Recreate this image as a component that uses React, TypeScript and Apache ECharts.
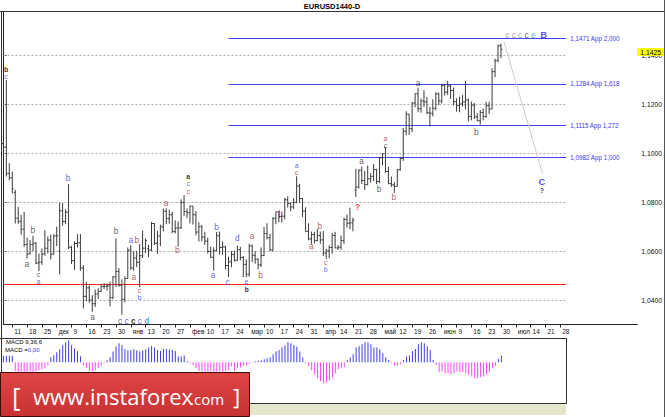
import React, { useEffect, useRef } from "react";
import * as echarts from "echarts";

// Daily EURUSD bars, 8 Nov 2016 .. 30 Jun 2017 (index 0..168)
const opens = [
  1.1040, 1.1025, 1.0918, 1.0900, 1.0840, 1.0735, 1.0722, 1.0690, 1.0627, 1.0590,
  1.0627, 1.0633, 1.0551, 1.0555, 1.0590, 1.0612, 1.0645, 1.0588, 1.0662, 1.0600,
  1.0765, 1.0721, 1.0759, 1.0616, 1.0561, 1.0631, 1.0634, 1.0531, 1.0415, 1.0450,
  1.0400, 1.0385, 1.0425, 1.0435, 1.0455, 1.0456, 1.0458, 1.0410, 1.0495, 1.0517,
  1.0460, 1.0403, 1.0488, 1.0604, 1.0531, 1.0572, 1.0554, 1.0581, 1.0612, 1.0610,
  1.0604, 1.0713, 1.0632, 1.0662, 1.0699, 1.0763, 1.0733, 1.0749, 1.0680, 1.0695,
  1.0695, 1.0799, 1.0762, 1.0757, 1.0784, 1.0749, 1.0678, 1.0700, 1.0657, 1.0641,
  1.0599, 1.0575, 1.0602, 1.0663, 1.0615, 1.0617, 1.0541, 1.0556, 1.0586, 1.0563,
  1.0606, 1.0574, 1.0546, 1.0505, 1.0621, 1.0583, 1.0567, 1.0544, 1.0582, 1.0672,
  1.0655, 1.0605, 1.0734, 1.0761, 1.0741, 1.0743, 1.0810, 1.0795, 1.0781, 1.0800,
  1.0866, 1.0815, 1.0764, 1.0681, 1.0650, 1.0668, 1.0643, 1.0664, 1.0646, 1.0592,
  1.0601, 1.0615, 1.0664, 1.0613, 1.0616, 1.0643, 1.0730, 1.0714, 1.0716, 1.0850,
  1.0862, 1.0931, 1.0889, 1.0872, 1.0896, 1.0906, 1.0934, 1.0885, 1.0982, 1.1023,
  1.0926, 1.0876, 1.0871, 1.0865, 1.0933, 1.0979, 1.1090, 1.1160, 1.1101, 1.1206,
  1.1244, 1.1182, 1.1214, 1.1210, 1.1166, 1.1164, 1.1184, 1.1243, 1.1214, 1.1277,
  1.1250, 1.1276, 1.1257, 1.1211, 1.1196, 1.1202, 1.1210, 1.1218, 1.1151, 1.1197,
  1.1149, 1.1133, 1.1167, 1.1151, 1.1195, 1.1181, 1.1334, 1.1379, 1.1440,
];
const highs = [
  1.1073, 1.1300, 1.0960, 1.0925, 1.0850, 1.0780, 1.0748, 1.0760, 1.0655, 1.0645,
  1.0663, 1.0637, 1.0590, 1.0611, 1.0686, 1.0660, 1.0667, 1.0669, 1.0700, 1.0797,
  1.0797, 1.0771, 1.0874, 1.0622, 1.0640, 1.0669, 1.0670, 1.0543, 1.0475, 1.0460,
  1.0420, 1.0443, 1.0448, 1.0466, 1.0469, 1.0468, 1.0475, 1.0498, 1.0652, 1.0530,
  1.0485, 1.0497, 1.0615, 1.0624, 1.0600, 1.0601, 1.0629, 1.0684, 1.0652, 1.0625,
  1.0719, 1.0714, 1.0683, 1.0708, 1.0774, 1.0775, 1.0770, 1.0760, 1.0726, 1.0722,
  1.0812, 1.0829, 1.0774, 1.0786, 1.0784, 1.0764, 1.0718, 1.0707, 1.0679, 1.0655,
  1.0619, 1.0616, 1.0679, 1.0680, 1.0640, 1.0622, 1.0577, 1.0601, 1.0602, 1.0623,
  1.0618, 1.0580, 1.0566, 1.0630, 1.0627, 1.0600, 1.0570, 1.0615, 1.0699, 1.0714,
  1.0670, 1.0739, 1.0761, 1.0763, 1.0762, 1.0818, 1.0824, 1.0800, 1.0817, 1.0906,
  1.0875, 1.0818, 1.0779, 1.0714, 1.0680, 1.0679, 1.0691, 1.0680, 1.0682, 1.0609,
  1.0623, 1.0674, 1.0679, 1.0625, 1.0664, 1.0737, 1.0749, 1.0778, 1.0737, 1.0937,
  1.0935, 1.0946, 1.0928, 1.0950, 1.0918, 1.0956, 1.0936, 1.0985, 1.0999, 1.1024,
  1.0945, 1.0905, 1.0882, 1.0935, 1.0983, 1.1104, 1.1172, 1.1161, 1.1210, 1.1245,
  1.1268, 1.1224, 1.1258, 1.1230, 1.1190, 1.1221, 1.1250, 1.1248, 1.1284, 1.1285,
  1.1296, 1.1282, 1.1269, 1.1225, 1.1231, 1.1238, 1.1296, 1.1224, 1.1212, 1.1206,
  1.1164, 1.1177, 1.1183, 1.1211, 1.1211, 1.1348, 1.1387, 1.1445, 1.1448,
];
const lows = [
  1.1016, 1.0905, 1.0890, 1.0836, 1.0713, 1.0712, 1.0667, 1.0617, 1.0570, 1.0586,
  1.0600, 1.0547, 1.0518, 1.0544, 1.0581, 1.0591, 1.0566, 1.0585, 1.0621, 1.0505,
  1.0704, 1.0710, 1.0609, 1.0548, 1.0523, 1.0615, 1.0520, 1.0366, 1.0395, 1.0389,
  1.0352, 1.0372, 1.0405, 1.0434, 1.0445, 1.0438, 1.0374, 1.0403, 1.0453, 1.0455,
  1.0340, 1.0390, 1.0486, 1.0523, 1.0520, 1.0535, 1.0453, 1.0572, 1.0593, 1.0576,
  1.0600, 1.0625, 1.0589, 1.0620, 1.0681, 1.0710, 1.0712, 1.0673, 1.0672, 1.0619,
  1.0691, 1.0744, 1.0735, 1.0713, 1.0709, 1.0665, 1.0640, 1.0640, 1.0625, 1.0590,
  1.0573, 1.0520, 1.0600, 1.0587, 1.0585, 1.0525, 1.0494, 1.0534, 1.0557, 1.0560,
  1.0562, 1.0493, 1.0493, 1.0496, 1.0555, 1.0549, 1.0525, 1.0535, 1.0580, 1.0648,
  1.0600, 1.0600, 1.0710, 1.0718, 1.0717, 1.0730, 1.0778, 1.0763, 1.0772, 1.0796,
  1.0798, 1.0740, 1.0680, 1.0644, 1.0630, 1.0631, 1.0640, 1.0630, 1.0580, 1.0569,
  1.0571, 1.0589, 1.0612, 1.0605, 1.0606, 1.0630, 1.0696, 1.0690, 1.0681, 1.0821,
  1.0856, 1.0874, 1.0850, 1.0869, 1.0880, 1.0886, 1.0874, 1.0878, 1.0950, 1.0921,
  1.0874, 1.0863, 1.0838, 1.0865, 1.0929, 1.0969, 1.1074, 1.1075, 1.1086, 1.1189,
  1.1168, 1.1166, 1.1190, 1.1160, 1.1110, 1.1151, 1.1176, 1.1197, 1.1204, 1.1237,
  1.1239, 1.1223, 1.1196, 1.1170, 1.1168, 1.1191, 1.1180, 1.1131, 1.1135, 1.1140,
  1.1132, 1.1118, 1.1135, 1.1145, 1.1161, 1.1181, 1.1312, 1.1372, 1.1390,
];
const closes = [
  1.1025, 1.0918, 1.0900, 1.0855, 1.0735, 1.0722, 1.0690, 1.0627, 1.0587, 1.0627,
  1.0633, 1.0551, 1.0555, 1.0587, 1.0612, 1.0645, 1.0588, 1.0662, 1.0663, 1.0765,
  1.0721, 1.0759, 1.0616, 1.0561, 1.0631, 1.0634, 1.0531, 1.0415, 1.0450, 1.0400,
  1.0385, 1.0425, 1.0435, 1.0455, 1.0456, 1.0458, 1.0410, 1.0495, 1.0517, 1.0460,
  1.0403, 1.0488, 1.0604, 1.0531, 1.0572, 1.0554, 1.0581, 1.0612, 1.0643, 1.0604,
  1.0713, 1.0632, 1.0662, 1.0699, 1.0763, 1.0733, 1.0749, 1.0680, 1.0695, 1.0695,
  1.0799, 1.0762, 1.0757, 1.0784, 1.0749, 1.0678, 1.0700, 1.0657, 1.0641, 1.0599,
  1.0575, 1.0602, 1.0663, 1.0615, 1.0617, 1.0541, 1.0556, 1.0586, 1.0563, 1.0606,
  1.0574, 1.0546, 1.0505, 1.0621, 1.0583, 1.0567, 1.0544, 1.0582, 1.0672, 1.0655,
  1.0605, 1.0734, 1.0761, 1.0741, 1.0743, 1.0810, 1.0795, 1.0781, 1.0800, 1.0866,
  1.0815, 1.0764, 1.0681, 1.0650, 1.0668, 1.0643, 1.0664, 1.0646, 1.0592, 1.0601,
  1.0615, 1.0664, 1.0613, 1.0616, 1.0643, 1.0730, 1.0714, 1.0716, 1.0726, 1.0862,
  1.0931, 1.0889, 1.0872, 1.0896, 1.0906, 1.0934, 1.0885, 1.0982, 1.0998, 1.0926,
  1.0876, 1.0871, 1.0865, 1.0933, 1.0979, 1.1090, 1.1160, 1.1101, 1.1206, 1.1244,
  1.1182, 1.1214, 1.1210, 1.1166, 1.1164, 1.1184, 1.1243, 1.1214, 1.1277, 1.1250,
  1.1276, 1.1257, 1.1211, 1.1196, 1.1202, 1.1210, 1.1218, 1.1151, 1.1197, 1.1149,
  1.1133, 1.1167, 1.1151, 1.1195, 1.1181, 1.1334, 1.1379, 1.1440, 1.1425,
];

// MACD(9,36,6) histogram, in 1e-4 units
const macd = [
  6.5, 6.5, 6.5, 6.5, -9, -10, -10, -9.5, -10, -9,
  -9.5, -9, -8, -7, -6, -3, 5, 7, 10, 13,
  17, 20, 22, 17, 14, 11, 6, -3, -6, -9,
  -9, -8, -6, -4, -1, 2, 5, 10.7, 15.7, 19,
  17, 13, 12, 12, 13, 12, 11, 12, 13, 14.7,
  16.3, 14.7, 12.3, 11.3, 13.3, 13.3, 12.8, 12.3, 11.3, 5.7,
  5.7, 6.7, 1.3, -1, -3, -6, -8.7, -9.3, -9.3, -10,
  -9.3, -10, -9.3, -9.3, -10, -9.3, -7.7, -4.3, -8.7, -6,
  -5.3, -3.3, -2.7, -1.5, -0.5, 1, 1.5, 2, 3, 4,
  5, 8, 11, 12.3, 14.7, 16.7, 20, 19, 17.3, 15.7,
  10.7, 4.7, -1, -4, -8, -12, -16, -19, -21, -20,
  -18, -15, -11, -7, -6, -5, 2, 4.7, 8, 14.7,
  16, 18, 20, 20, 18, 14.7, 14.7, 13, 9, 5,
  2.3, -1, -3.3, -3.5, -2, 2.3, 5.7, 6.7, 11.3, 13.3,
  18, 20, 19, 16, 12.3, 2.3, -2.7, -10, -9.3, -11,
  -11, -12, -11, -9.3, -10, -10, -11, -12.7, -14.3, -16,
  -16, -15, -14.3, -12, -9.3, -6, -3.3, 3.3, 6.7,
];

const dateTickLabels = [
  "11", "18", "25", "дек", "9", "16", "23", "30", "янв", "13", "20", "27",
  "фев", "10", "17", "24", "мар", "10", "17", "24", "31", "апр", "14", "21",
  "28", "май", "12", "19", "26", "июн", "9", "16", "23", "30", "июл", "14",
  "21", "28",
];
const firstTickIndex = 3;
const priceTicks = [1.04, 1.06, 1.08, 1.1, 1.12, 1.14];
const fibLevels = [1.1471, 1.1284, 1.1115, 1.0982];
const fibRatios = ["2,000", "1,618", "1,272", "1,000"];
const redLevel = 1.0464;
const lastPrice = 1.1425;
const projection = [
  [169, 1.1457],
  [182, 1.0918],
];
const highlightBar = [93, 1.0735, 1.0768];

// wave labels: [bar index, price, rows of [text, style] segments, line height]
type Seg = [string, string];
const waveLabels: [number, number, Seg[][], number][] = [
  [0.9, 1.13285, [[["b", "kb"]], [["c", "blue"]]], 7.6],
  [21.8, 1.0898, [[["b", "blue"]]], 9],
  [9.9, 1.0686, [[["b", "dark"]]], 9],
  [7.9, 1.0547, [[["a", "dark"]]], 9],
  [11.85, 1.04888, [[["c", "dark"]], [["a", "blue"]]], 7.2],
  [38, 1.0683, [[["b", "dark"]]], 9],
  [44, 1.0647, [[["a", "bluep"], ["b", "red"]]], 9],
  [44, 1.0493, [[["a", "red"]]], 9],
  [45.9, 1.0426, [[["c", "red"]], [["b", "blue"]]], 7.3],
  [30.1, 1.0332, [[["a", "dark"]]], 9],
  [
    44,
    1.0315,
    [[["c ", "dark"], ["c ", "blue"], ["c ", "kb"], ["c ", "blue"], ["d", "tealb"]]],
    9,
  ],
  [54.9, 1.0795, [[["a", "red"]]], 9],
  [62.4, 1.0875, [[["a", "kb"]], [["c", "blue"]], [["c", "red"]]], 7.2],
  [58.7, 1.0604, [[["b", "red"]]], 9],
  [72, 1.07, [[["b", "blue"]]], 9],
  [70.8, 1.0502, [[["a", "blue"]]], 9],
  [75.7, 1.0475, [[["c", "blue"]]], 9],
  [79, 1.0652, [[["d", "blue"]]], 9],
  [82.1, 1.04614, [[["e", "blue"]], [["b", "kb"]]], 8],
  [84, 1.0662, [[["a", "red"]]], 9],
  [86.8, 1.0502, [[["b", "red"]]], 9],
  [99, 1.09364, [[["a", "blue"]], [["c", "red"]]], 7.2],
  [106.8, 1.0704, [[["b", "red"]]], 9],
  [104, 1.0622, [[["a", "red"]]], 9],
  [108.8, 1.05378, [[["c", "red"]], [["b", "blue"]]], 7.2],
  [119.6, 1.078, [[["?", "qred"]]], 9],
  [120.9, 1.097, [[["a", "dark"]]], 9],
  [126.8, 1.0853, [[["b", "dark"]]], 9],
  [129, 1.10477, [[["a", "red"]], [["c", "dark"]]], 7.2],
  [131.8, 1.0823, [[["b", "red"]]], 9],
  [140, 1.1289, [[["a", "dark"]]], 9],
  [159.7, 1.1086, [[["b", "dark"]]], 9],
  [
    176.5,
    1.1484,
    [[["c ", "c1"], ["c ", "c2"], ["c ", "c3"], ["c ", "dark"], ["e  ", "teal"], ["B", "bigb"]]],
    9,
  ],
  [181.8, 1.08669, [[["C", "bigb"]], [["?", "kb"]]], 8.6],
];

const FONT = "'Liberation Sans', Arial, sans-serif";
const LBL = 8.3;
const STACK = 7;
const RICH: Record<string, any> = {
  dark: { color: "#333333" },
  kb: { color: "#000000", fontWeight: "bold" },
  blue: { color: "#3a3af0" },
  bluep: { color: "#3a3af0", padding: [0, 1.4, 0, 0] },
  red: { color: "#a03232" },
  teal: { color: "#1a9ad8" },
  tealb: { color: "#1a9ad8", fontWeight: "bold" },
  qred: { color: "#ff1a1a", fontWeight: "bold" },
  c1: { color: "#8a8a8a" },
  c2: { color: "#b07a7a" },
  c3: { color: "#6f86a8" },
  bigb: { color: "#2a2af0", fontWeight: "bold", big: true },
};

const fmtPrice = (v: number) => v.toFixed(4).replace(".", ",");
const X_MAX = 214;
const X_END = 190;

export default function App() {
  const ref = useRef<HTMLDivElement>(null);
  useEffect(() => {
    const chart = echarts.init(ref.current!, null, { renderer: "svg" });
    const tickIdx = dateTickLabels.map((_, k) => firstTickIndex + 5 * k);
    const ohlc = opens.map((o, i) => [i, o, highs[i], lows[i], closes[i]]);

    const gridLines = priceTicks.map((v) => [
      { coord: [0, v], lineStyle: { color: "#a9a9b4", type: [2, 2], width: 1 } },
      { coord: [X_END, v] },
    ]);
    const fibLines = fibLevels.map((v, k) => [
      {
        coord: [76, v],
        lineStyle: { color: "#4040f0", width: 1, type: "solid" },
        label: {
          show: true,
          position: "end",
          distance: 4,
          formatter: `${fmtPrice(v)} App ${fibRatios[k]}`,
          color: "#3a3af0",
          fontSize: 6.3,
          fontFamily: FONT,
        },
      },
      { coord: [X_END, v] },
    ]);

    const labelData = waveLabels.map(([i, p, rows, lh]) => {
      const stacked = rows.length > 1;
      const lineH = stacked ? Math.max(lh, STACK + 0.2) : lh;
      const rich: Record<string, any> = {};
      const text = rows
        .map((row) =>
          row
            .map(([t, s]) => {
              const base = RICH[s];
              const size = base.big ? 9.5 : stacked ? STACK : LBL;
              const { big, ...rest } = base;
              rich[s] = { ...rest, fontSize: size, lineHeight: lineH, fontFamily: FONT };
              return `{${s}|${t}}`;
            })
            .join("")
        )
        .join("\n");
      return {
        value: [i, p],
        label: {
          show: true,
          position: "inside",
          align: "center",
          verticalAlign: "middle",
          formatter: text,
          lineHeight: lineH,
          rich,
        },
      };
    });

    const option: any = {
      animation: false,
      backgroundColor: "#ffffff",
      textStyle: { fontFamily: FONT },
      grid: [
        { left: 3.4, right: 27.3, top: 11.5, height: 313 },
        { left: 3.4, right: 27.3, top: 338, height: 65 },
      ],
      xAxis: [
        {
          type: "value",
          gridIndex: 0,
          min: 0,
          max: X_MAX,
          axisLine: { show: true, lineStyle: { color: "#222", width: 1 } },
          axisTick: {
            show: true,
            customValues: tickIdx,
            length: 3,
            lineStyle: { color: "#222" },
          },
          axisLabel: {
            show: true,
            customValues: tickIdx,
            formatter: (v: number) => {
              const k = Math.round((v - firstTickIndex) / 5);
              return dateTickLabels[k] ?? "";
            },
            fontSize: 6.5,
            color: "#111",
            align: "left",
            margin: 3,
            padding: [0, 0, 0, 2],
            fontFamily: FONT,
          },
          splitLine: { show: false },
        },
        { type: "value", gridIndex: 1, min: 0, max: X_MAX, show: false },
      ],
      yAxis: [
        {
          type: "value",
          gridIndex: 0,
          position: "right",
          min: 1.03,
          max: 1.158,
          axisLine: { show: true, lineStyle: { color: "#222", width: 1 } },
          axisTick: {
            show: true,
            customValues: priceTicks,
            length: 3,
            lineStyle: { color: "#222" },
          },
          axisLabel: {
            show: true,
            customValues: priceTicks,
            formatter: (v: number) => fmtPrice(v),
            fontSize: 6.8,
            color: "#111",
            margin: 4,
            fontFamily: FONT,
          },
          splitLine: { show: false },
        },
        { type: "value", gridIndex: 1, min: -40.7, max: 24.3, show: false },
      ],
      series: [
        {
          type: "custom",
          xAxisIndex: 0,
          yAxisIndex: 0,
          data: ohlc,
          encode: { x: 0, y: [1, 2, 3, 4] },
          renderItem: (params: any, api: any) => {
            const x = api.value(0);
            const o = api.coord([x, api.value(1)]);
            const h = api.coord([x, api.value(2)]);
            const l = api.coord([x, api.value(3)]);
            const c = api.coord([x, api.value(4)]);
            const style = { stroke: "#3a3a3a", lineWidth: 1 };
            return {
              type: "group",
              children: [
                { type: "line", shape: { x1: h[0], y1: h[1], x2: l[0], y2: l[1] }, style },
                { type: "line", shape: { x1: o[0] - 1.4, y1: o[1], x2: o[0], y2: o[1] }, style },
                { type: "line", shape: { x1: c[0], y1: c[1], x2: c[0] + 1.4, y2: c[1] }, style },
              ],
            };
          },
          z: 5,
          markLine: {
            silent: true,
            symbol: ["none", "none"],
            animation: false,
            label: { show: false },
            data: [
              ...gridLines,
              ...fibLines,
              [
                { coord: [0, redLevel], lineStyle: { color: "#ff2020", width: 1, type: "solid" } },
                { coord: [X_END, redLevel] },
              ],
              [
                { coord: projection[0], lineStyle: { color: "#d6c6ce", width: 1, type: "solid" } },
                { coord: projection[1] },
              ],
              [
                {
                  coord: [highlightBar[0], highlightBar[1]],
                  lineStyle: { color: "#ff40ff", width: 1, type: "solid" },
                },
                { coord: [highlightBar[0], highlightBar[2]] },
              ],
              {
                yAxis: lastPrice,
                lineStyle: { color: "transparent", width: 1 },
                label: {
                  show: true,
                  position: "end",
                  distance: 0,
                  offset: [0, -3.5],
                  formatter: fmtPrice(lastPrice),
                  backgroundColor: "#ffff00",
                  color: "#000",
                  fontSize: 6.8,
                  padding: [1, 3, 0, 3],
                  fontFamily: FONT,
                },
              },
            ],
          },
        },
        {
          type: "scatter",
          xAxisIndex: 0,
          yAxisIndex: 0,
          symbolSize: 1,
          itemStyle: { color: "transparent" },
          z: 10,
          data: labelData,
        },
        {
          type: "bar",
          xAxisIndex: 1,
          yAxisIndex: 1,
          barWidth: 1,
          data: macd.map((v, i) => [i, v]),
          itemStyle: {
            color: (p: any) => (p.value[1] >= 0 ? "#3c3ce6" : "#ff44ff"),
          },
        },
      ],
      graphic: [
        { type: "line", shape: { x1: 0, y1: 11.5, x2: 665, y2: 11.5 }, style: { stroke: "#333", lineWidth: 1 } },
        { type: "line", shape: { x1: 1.5, y1: 11, x2: 1.5, y2: 403 }, style: { stroke: "#333", lineWidth: 1 } },
        { type: "line", shape: { x1: 0, y1: 338.5, x2: 566, y2: 338.5 }, style: { stroke: "#333", lineWidth: 1 } },
        { type: "line", shape: { x1: 566.5, y1: 338, x2: 566.5, y2: 403 }, style: { stroke: "#333", lineWidth: 1 } },
        { type: "line", shape: { x1: 0, y1: 403.5, x2: 567, y2: 403.5 }, style: { stroke: "#333", lineWidth: 1 } },
        { type: "line", shape: { x1: 664.5, y1: 0, x2: 664.5, y2: 417 }, style: { stroke: "#555", lineWidth: 1 } },
        { type: "rect", shape: { x: 250, y: 404, width: 316, height: 11 }, style: { fill: "#e5e5cc" } },
        {
          type: "text",
          x: 332,
          y: 6,
          style: {
            text: "EURUSD1440-D",
            fill: "#000",
            font: `bold 7.5px ${FONT}`,
            align: "center",
            verticalAlign: "middle",
          },
        },
        {
          type: "text",
          x: 6,
          y: 342,
          style: { text: "MACD 9,36,6", fill: "#000", font: `6px ${FONT}`, verticalAlign: "middle" },
        },
        {
          type: "text",
          x: 5,
          y: 350,
          style: {
            text: "MACD ={v|0,00}",
            fill: "#000",
            font: `6px ${FONT}`,
            verticalAlign: "middle",
            rich: { v: { fill: "#3a3af0", font: `6px ${FONT}` } },
          },
        },
        {
          type: "group",
          z: 100,
          children: [
            {
              type: "rect",
              shape: { x: 0.5, y: 372.5, width: 249, height: 44 },
              style: {
                fill: new echarts.graphic.LinearGradient(0, 0, 0, 1, [
                  { offset: 0, color: "#de4646" },
                  { offset: 1, color: "#c83232" },
                ]),
                stroke: "#3a0c0c",
                lineWidth: 1,
              },
            },
            {
              type: "text",
              x: 12,
              y: 396,
              style: { text: "[", fill: "#fff", font: `26px 'Open Sans', ${FONT}`, verticalAlign: "middle" },
            },
            {
              type: "text",
              x: 33,
              y: 396,
              style: {
                text: "www.instaforex",
                fill: "#fff",
                font: `22px 'Open Sans', ${FONT}`,
                verticalAlign: "middle",
              },
            },
            {
              type: "text",
              x: 190,
              y: 399,
              style: { text: ".com", fill: "#fff", font: `15px 'Open Sans', ${FONT}`, verticalAlign: "middle" },
            },
            {
              type: "text",
              x: 233,
              y: 396,
              style: { text: "]", fill: "#fff", font: `22px 'Open Sans', ${FONT}`, verticalAlign: "middle" },
            },
          ],
        },
      ],
    };
    chart.setOption(option);
    return () => chart.dispose();
  }, []);
  return (
    <div
      ref={ref}
      style={{ position: "fixed", left: 0, top: 0, width: 665, height: 417, background: "#fff" }}
    />
  );
}
